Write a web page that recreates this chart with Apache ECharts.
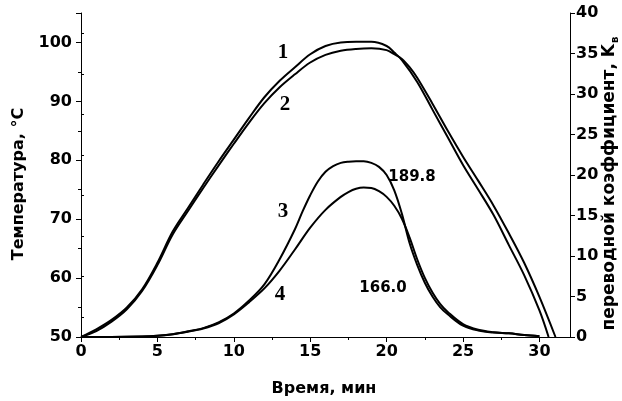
<!DOCTYPE html>
<html>
<head>
<meta charset="utf-8">
<script src="https://cdn.jsdelivr.net/npm/echarts@6/dist/echarts.min.js"></script>
<style>
  html, body { margin: 0; padding: 0; background: #fff; }
  #chart { width: 622px; height: 401px; }
</style>
</head>
<body>
<div id="chart"></div>
<script>
// кривые 1, 2 - температура (левая ось), кривые 3, 4 - переводной коэффициент (правая ось)
var t1 = [0, 1, 2, 3, 4, 5, 6, 7, 8, 9, 10, 11, 12, 13, 14, 15, 16, 17, 18, 19, 20, 20.5, 21, 22, 23, 24, 25, 26, 27, 28, 29, 30, 30.6];
var temp1 = [50, 51.3, 52.9, 55.0, 58.1, 62.6, 67.9, 71.9, 75.9, 79.8, 83.5, 87.2, 90.7, 93.5, 95.8, 98.0, 99.4, 100.0, 100.1, 100.1, 99.4, 98.3, 97.0, 93.3, 88.6, 83.9, 79.2, 75.0, 70.7, 65.6, 60.5, 54.5, 50];

var t2 = [0, 1, 2, 3, 4, 5, 6, 7, 8, 9, 10, 11, 12, 13, 14, 15, 16, 17, 18, 19, 20, 20.5, 21, 21.5, 22, 23, 24, 25, 26, 27, 28, 29, 30, 31.05];
var temp2 = [50, 51.0, 52.6, 54.7, 57.8, 62.2, 67.4, 71.4, 75.3, 79.1, 82.8, 86.4, 89.7, 92.4, 94.6, 96.6, 97.9, 98.6, 98.9, 99.0, 98.7, 98.0, 97.2, 95.8, 94.0, 89.6, 85.0, 80.6, 76.5, 72.3, 67.6, 62.6, 56.8, 50];

var t3 = [0, 2, 4, 5, 6, 7, 8, 9, 10, 11, 12, 13, 14, 14.5, 15, 15.5, 16, 16.5, 17, 17.5, 18, 18.5, 19, 19.5, 20, 20.5, 21, 21.5, 22, 22.5, 23, 23.5, 24, 25, 26, 27, 28, 29, 30];
var k3 = [0, 0, 0.05, 0.15, 0.35, 0.7, 1.1, 1.8, 2.9, 4.5, 6.5, 9.6, 13.3, 15.5, 17.5, 19.2, 20.4, 21.1, 21.5, 21.65, 21.7, 21.7, 21.5, 21.0, 20.0, 18.1, 15.2, 11.6, 8.9, 6.7, 5.0, 3.7, 2.8, 1.4, 0.8, 0.55, 0.45, 0.25, 0.1];

var t4 = [0, 2, 4, 5, 6, 7, 8, 9, 10, 11, 12, 13, 14, 15, 16, 17, 17.5, 18, 18.5, 19, 19.5, 20, 20.5, 21, 21.5, 22, 22.5, 23, 23.5, 24, 25, 26, 27, 28, 29, 30];
var k4 = [0, 0, 0.05, 0.15, 0.35, 0.65, 1.05, 1.7, 2.8, 4.3, 6.0, 8.2, 10.8, 13.5, 15.7, 17.3, 17.9, 18.3, 18.45, 18.4, 18.0, 17.3, 16.2, 14.6, 12.3, 9.6, 7.3, 5.5, 4.1, 3.1, 1.6, 0.9, 0.6, 0.45, 0.25, 0.1];

// деления осей
var xLabels = [0, 5, 10, 15, 20, 25, 30];
var xMinor = [2.5, 7.5, 12.5, 17.5, 22.5, 27.5];
var leftLabels = [50, 60, 70, 80, 90, 100];
var leftMinor = [55, 65, 75, 85, 95];
var rightLabels = [0, 5, 10, 15, 20, 25, 30, 35, 40];
var rightMinor = [2.5, 7.5, 12.5, 17.5, 22.5, 27.5, 32.5, 37.5];

function pairs(xs, ys) {
  return xs.map(function (x, i) { return [x, ys[i]]; });
}

var font = 'DejaVu Sans';
var chart = echarts.init(document.getElementById('chart'), null, { renderer: 'canvas' });

var labelStyle = { color: '#000', fontWeight: 'bold', fontSize: 16, fontFamily: font };
var lineStyle = { color: '#000', width: 1 };

function minorAxis(extra) {
  return Object.assign({
    type: 'value',
    axisLine: { show: false },
    axisLabel: { show: false },
    splitLine: { show: false }
  }, extra);
}

var curve = function (name, data, yIdx) {
  return {
    name: name,
    type: 'line',
    yAxisIndex: yIdx,
    data: data,
    smooth: 0.35,
    showSymbol: false,
    clip: false,
    lineStyle: { color: '#000', width: 2 },
    itemStyle: { color: '#000' }
  };
};

var titleFont = 'bold 16px "DejaVu Sans"';
var numFont = 'bold 21px "Liberation Serif"';

function txt(x, y, text, f, extra) {
  return Object.assign({
    type: 'text', x: x, y: y,
    style: { text: text, font: f, fill: '#000', align: 'center', verticalAlign: 'middle' }
  }, extra || {});
}

var option = {
  animation: false,
  backgroundColor: '#fff',
  grid: { left: 81, right: 52, top: 13, bottom: 64 },
  xAxis: [
    {
      type: 'value', min: 0, max: 32, position: 'bottom',
      axisLine: { show: true, onZero: false, lineStyle: lineStyle },
      axisTick: { show: true, length: 5, customValues: xLabels, lineStyle: lineStyle },
      axisLabel: Object.assign({ customValues: xLabels, margin: 7 }, labelStyle),
      splitLine: { show: false }
    },
    minorAxis({ min: 0, max: 32, position: 'bottom',
      axisTick: { show: true, length: 3, customValues: xMinor, lineStyle: lineStyle } })
  ],
  yAxis: [
    {
      type: 'value', min: 50, max: 105, position: 'left',
      axisLine: { show: true, onZero: false, lineStyle: lineStyle },
      axisTick: { show: true, length: 5, customValues: leftLabels.concat([105]), lineStyle: lineStyle },
      axisLabel: Object.assign({ customValues: leftLabels, margin: 9 }, labelStyle),
      splitLine: { show: false }
    },
    {
      type: 'value', min: 0, max: 40, position: 'right',
      axisLine: { show: true, onZero: false, lineStyle: lineStyle },
      axisTick: { show: true, length: 5, customValues: rightLabels, lineStyle: lineStyle },
      axisLabel: Object.assign({ customValues: rightLabels, margin: 6 }, labelStyle),
      splitLine: { show: false }
    },
    minorAxis({ min: 50, max: 105, position: 'left',
      axisTick: { show: true, length: 3, customValues: leftMinor, lineStyle: lineStyle } }),
    minorAxis({ min: 0, max: 40, position: 'right',
      axisTick: { show: true, length: 3, customValues: rightMinor, lineStyle: lineStyle } })
  ],
  series: [
    curve('1', pairs(t1, temp1), 0),
    curve('2', pairs(t2, temp2), 0),
    curve('3', pairs(t3, k3), 1),
    curve('4', pairs(t4, k4), 1)
  ],
  graphic: [
    // номера кривых
    txt(283, 53, '1', numFont),
    txt(285, 105, '2', numFont),
    txt(283, 212, '3', numFont),
    txt(280, 295, '4', numFont),
    txt(412, 177, '189.8', 'bold 15px "DejaVu Sans"'),
    txt(383, 288, '166.0', 'bold 15px "DejaVu Sans"'),
    // подписи осей
    txt(19, 184, 'Температура, °C', titleFont, { rotation: Math.PI / 2 }),
    txt(324, 389, 'Время, мин', titleFont),
    // правая подпись: текст кончается на y=44, индекс "в" рядом
    {
      type: 'text', x: 610, y: 44, rotation: Math.PI / 2,
      style: { text: 'переводной коэффициент, K', font: 'bold 17px "DejaVu Sans"', fill: '#000', align: 'right', verticalAlign: 'middle' }
    },
    {
      type: 'text', x: 615, y: 43, rotation: Math.PI / 2,
      style: { text: 'в', font: 'bold 10px "DejaVu Sans"', fill: '#000', align: 'left', verticalAlign: 'middle' }
    }
  ]
};

chart.setOption(option);
</script>
</body>
</html>
